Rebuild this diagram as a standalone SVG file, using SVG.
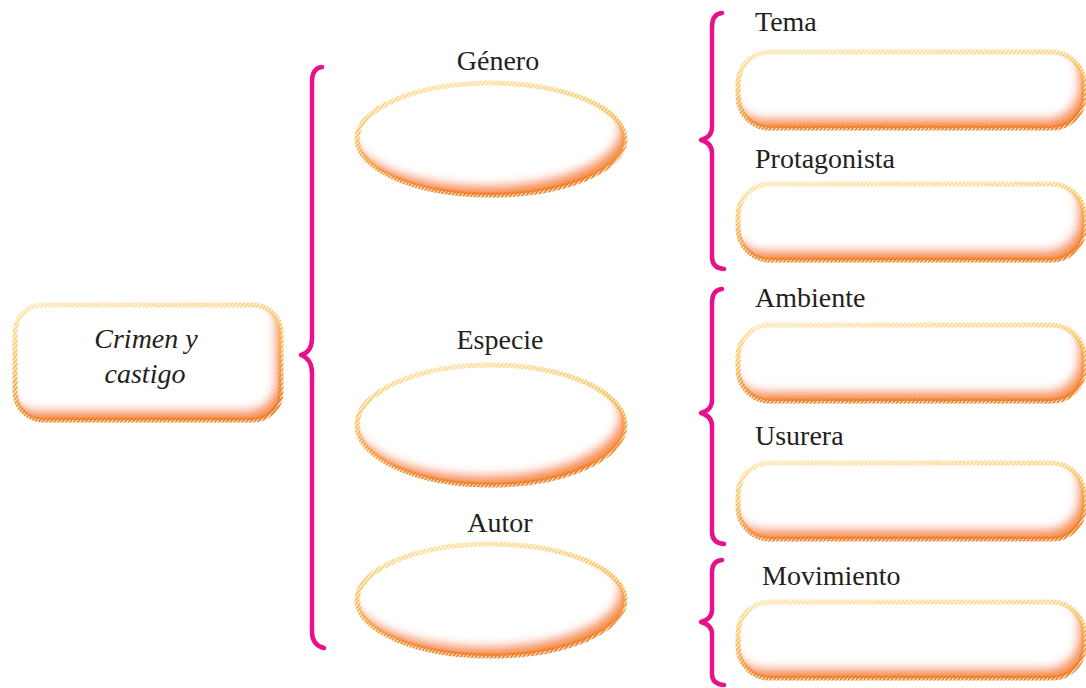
<svg xmlns="http://www.w3.org/2000/svg" width="1086" height="688" viewBox="0 0 1086 688">
<style>
.lbl{font-family:"Liberation Serif","Times New Roman",serif;font-size:28px;fill:#231f20}
.it{font-style:italic}
.fill{fill:#fff;filter:url(#inner)}
.edge{fill:none;stroke:url(#edgeGrad);stroke-width:5;mask:url(#hatchMask)}
.brace{fill:none;stroke:#e8108c;stroke-width:4.5;stroke-linecap:round;stroke-linejoin:round}
</style>
<defs>
<linearGradient id="edgeGrad" x1="0" y1="0" x2="0.25" y2="1">
<stop offset="0" stop-color="#ffe3a6"/>
<stop offset="0.45" stop-color="#fcbc4c"/>
<stop offset="1" stop-color="#f0781a"/>
</linearGradient>
<pattern id="hatchPat" patternUnits="userSpaceOnUse" width="3" height="3" patternTransform="rotate(40)">
<rect x="0" y="0" width="1.8" height="3" fill="#fff"/>
</pattern>
<mask id="hatchMask" maskUnits="userSpaceOnUse" x="0" y="0" width="1086" height="688">
<rect x="0" y="0" width="1086" height="688" fill="url(#hatchPat)"/>
</mask>
<filter id="inner" x="-10%" y="-20%" width="120%" height="140%">
<feOffset in="SourceAlpha" dx="-6" dy="-10" result="off"/>
<feGaussianBlur in="off" stdDeviation="5" result="blur"/>
<feComposite in="SourceAlpha" in2="blur" operator="out" result="edgeA"/>
<feFlood flood-color="#f68a2c" flood-opacity="0.95"/>
<feComposite in2="edgeA" operator="in" result="shadow"/>
<feMerge><feMergeNode in="SourceGraphic"/><feMergeNode in="shadow"/></feMerge>
</filter>
</defs>

<g id="connectors">
<path class="brace" d="M322,67 Q312,68 312,82 L312,338 Q312,352 301,355 Q312,359 312,373 L312,632 Q312,645 324,648"/>
<path class="brace" d="M722,13 Q712,14 712,27 L712,127 Q712,137 701,140 Q712,143 712,153 L712,257 Q712,268 724,269"/>
<path class="brace" d="M722,289 Q712,290 712,303 L712,400 Q712,410 701,413 Q712,416 712,426 L712,532 Q712,543 724,544"/>
<path class="brace" d="M722,560 Q712,561 712,572 L712,610 Q712,619 701,622 Q712,625 712,634 L712,674 Q712,684 724,685"/>
</g>

<g id="node-crimen">
<rect class="fill" x="15" y="305" width="266" height="115" rx="28"/>
<rect class="edge" x="15" y="305" width="266" height="115" rx="28"/>
<text class="lbl it" x="146" y="348" text-anchor="middle">Crimen y</text>
<text class="lbl it" x="145" y="383" text-anchor="middle">castigo</text>
</g>

<g id="node-genero">
<text class="lbl" x="498" y="70" text-anchor="middle">Género</text>
<ellipse class="fill" cx="491" cy="139" rx="134" ry="56"/>
<ellipse class="edge" cx="491" cy="139" rx="134" ry="56"/>
</g>

<g id="node-especie">
<text class="lbl" x="500" y="349" text-anchor="middle">Especie</text>
<ellipse class="fill" cx="491" cy="425" rx="134" ry="60"/>
<ellipse class="edge" cx="491" cy="425" rx="134" ry="60"/>
</g>

<g id="node-autor">
<text class="lbl" x="500" y="532" text-anchor="middle">Autor</text>
<ellipse class="fill" cx="491" cy="600" rx="134" ry="56"/>
<ellipse class="edge" cx="491" cy="600" rx="134" ry="56"/>
</g>

<g id="node-tema">
<text class="lbl" x="755" y="31">Tema</text>
<rect class="fill" x="738" y="52" width="346" height="76" rx="32"/>
<rect class="edge" x="738" y="52" width="346" height="76" rx="32"/>
</g>

<g id="node-protagonista">
<text class="lbl" x="755" y="168">Protagonista</text>
<rect class="fill" x="738" y="184" width="346" height="76" rx="32"/>
<rect class="edge" x="738" y="184" width="346" height="76" rx="32"/>
</g>

<g id="node-ambiente">
<text class="lbl" x="755" y="307">Ambiente</text>
<rect class="fill" x="738" y="325" width="346" height="76" rx="32"/>
<rect class="edge" x="738" y="325" width="346" height="76" rx="32"/>
</g>

<g id="node-usurera">
<text class="lbl" x="755" y="445">Usurera</text>
<rect class="fill" x="738" y="463" width="346" height="76" rx="32"/>
<rect class="edge" x="738" y="463" width="346" height="76" rx="32"/>
</g>

<g id="node-movimiento">
<text class="lbl" x="762" y="585">Movimiento</text>
<rect class="fill" x="738" y="602" width="346" height="76" rx="32"/>
<rect class="edge" x="738" y="602" width="346" height="76" rx="32"/>
</g>
</svg>
